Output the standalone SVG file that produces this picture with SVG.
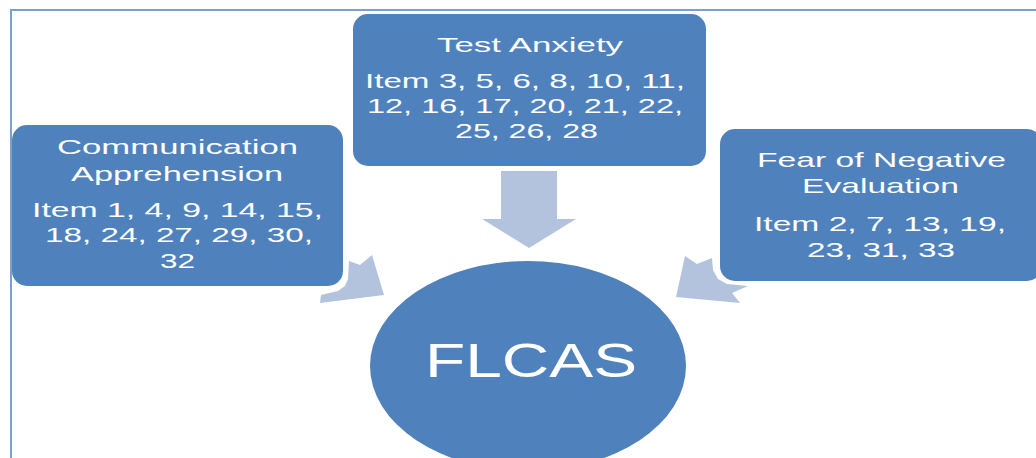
<svg xmlns="http://www.w3.org/2000/svg" width="1036" height="458" viewBox="0 0 1036 458">
<style>
.box{fill:#4F81BD;}
.arr{fill:#B3C3DE;}
.t{font-family:"Liberation Sans","Open Sans",sans-serif;font-size:21px;fill:#FFFFFF;}
.big{font-family:"Liberation Sans","Open Sans",sans-serif;font-size:49px;fill:#FFFFFF;}
.frame{stroke:#7BA0CD;stroke-width:2;fill:none;}
</style>
<rect width="1036" height="458" fill="#FFFFFF"/>
<path class="frame" d="M11,458 V10 H1036"/>
<g id="connectors">
<polygon class="arr" points="501,171 557,171 557,219 576,219 529,248 482,219 501,219"/>
<polygon class="arr" points="349,261 360,265 372,255 384,295 320,303 321,295 338,291 345,286 348,279"/>
<polygon class="arr" points="685,256 697,264 712,258 713,270 718,279 727,284 748,286 732,293 740,303 676,297"/>
</g>
<g id="node-communication">
<rect class="box" x="12" y="125" width="331" height="161" rx="15"/>
<text class="t" x="57" y="154" textLength="241" lengthAdjust="spacingAndGlyphs">Communication</text>
<text class="t" x="71" y="181" textLength="212" lengthAdjust="spacingAndGlyphs">Apprehension</text>
<text class="t" x="32" y="217" textLength="291" lengthAdjust="spacingAndGlyphs">Item 1, 4, 9, 14, 15,</text>
<text class="t" x="45" y="242" textLength="268" lengthAdjust="spacingAndGlyphs">18, 24, 27, 29, 30,</text>
<text class="t" x="160" y="268" textLength="35" lengthAdjust="spacingAndGlyphs">32</text>
</g>
<g id="node-test-anxiety">
<rect class="box" x="353" y="14" width="353" height="152" rx="15"/>
<text class="t" x="437" y="52" textLength="186" lengthAdjust="spacingAndGlyphs">Test Anxiety</text>
<text class="t" x="365" y="88" textLength="320" lengthAdjust="spacingAndGlyphs">Item 3, 5, 6, 8, 10, 11,</text>
<text class="t" x="367" y="113" textLength="316" lengthAdjust="spacingAndGlyphs">12, 16, 17, 20, 21, 22,</text>
<text class="t" x="455" y="138" textLength="143" lengthAdjust="spacingAndGlyphs">25, 26, 28</text>
</g>
<g id="node-fear">
<rect class="box" x="720" y="129" width="322" height="152" rx="15"/>
<text class="t" x="757" y="167" textLength="249" lengthAdjust="spacingAndGlyphs">Fear of Negative</text>
<text class="t" x="802" y="193" textLength="157" lengthAdjust="spacingAndGlyphs">Evaluation</text>
<text class="t" x="754" y="231" textLength="252" lengthAdjust="spacingAndGlyphs">Item 2, 7, 13, 19,</text>
<text class="t" x="807" y="257" textLength="148" lengthAdjust="spacingAndGlyphs">23, 31, 33</text>
</g>
<g id="node-flcas">
<ellipse class="box" cx="528" cy="366" rx="158" ry="105"/>
<text class="big" x="425" y="377" textLength="212" lengthAdjust="spacingAndGlyphs">FLCAS</text>
</g>
</svg>
